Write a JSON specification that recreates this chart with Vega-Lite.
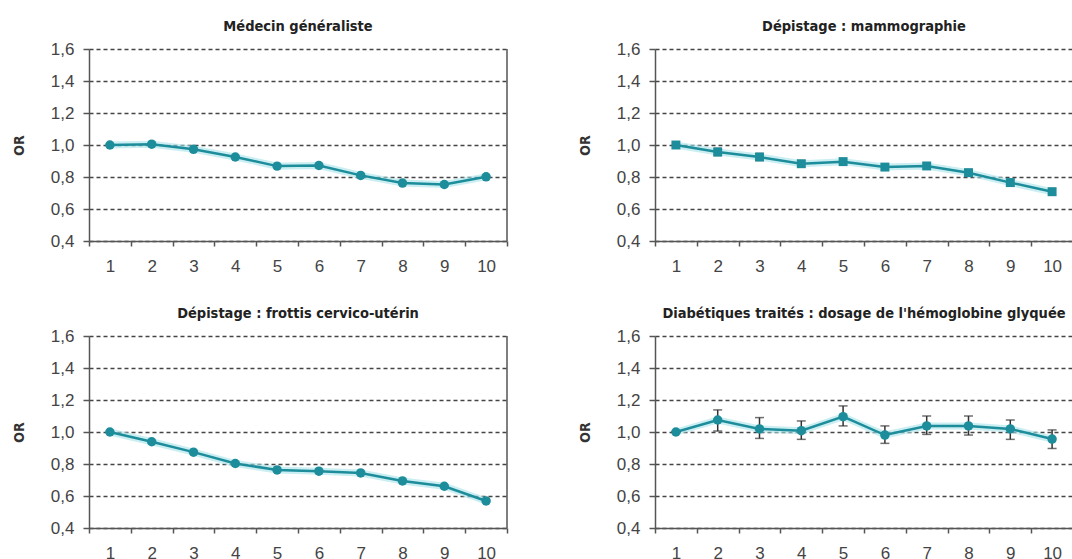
{
  "$schema": "https://vega.github.io/schema/vega-lite/v6.json",
  "padding": {"left": 12, "top": 18, "right": 0, "bottom": 0},
  "background": "white",
  "datasets": {
    "m": [
      {"c": 1, "or": 1.0}, {"c": 2, "or": 1.005}, {"c": 3, "or": 0.973}, {"c": 4, "or": 0.925}, {"c": 5, "or": 0.868},
      {"c": 6, "or": 0.872}, {"c": 7, "or": 0.81}, {"c": 8, "or": 0.762}, {"c": 9, "or": 0.753}, {"c": 10, "or": 0.801}
    ],
    "mam": [
      {"c": 1, "or": 1.0, "lo": 1.0, "hi": 1.0}, {"c": 2, "or": 0.956, "lo": 0.934, "hi": 0.98}, {"c": 3, "or": 0.925, "lo": 0.903, "hi": 0.947},
      {"c": 4, "or": 0.883, "lo": 0.863, "hi": 0.902}, {"c": 5, "or": 0.896, "lo": 0.876, "hi": 0.916}, {"c": 6, "or": 0.862, "lo": 0.842, "hi": 0.882},
      {"c": 7, "or": 0.869, "lo": 0.849, "hi": 0.889}, {"c": 8, "or": 0.827, "lo": 0.807, "hi": 0.847}, {"c": 9, "or": 0.765, "lo": 0.744, "hi": 0.786},
      {"c": 10, "or": 0.708, "lo": 0.688, "hi": 0.728}
    ],
    "fr": [
      {"c": 1, "or": 1.0}, {"c": 2, "or": 0.939}, {"c": 3, "or": 0.874}, {"c": 4, "or": 0.803}, {"c": 5, "or": 0.763},
      {"c": 6, "or": 0.755}, {"c": 7, "or": 0.744}, {"c": 8, "or": 0.694}, {"c": 9, "or": 0.661}, {"c": 10, "or": 0.569}
    ],
    "dia": [
      {"c": 1, "or": 1.0, "lo": 1.0, "hi": 1.0}, {"c": 2, "or": 1.075, "lo": 1.006, "hi": 1.138}, {"c": 3, "or": 1.019, "lo": 0.96, "hi": 1.09},
      {"c": 4, "or": 1.008, "lo": 0.954, "hi": 1.069}, {"c": 5, "or": 1.096, "lo": 1.038, "hi": 1.163}, {"c": 6, "or": 0.981, "lo": 0.929, "hi": 1.038},
      {"c": 7, "or": 1.038, "lo": 0.985, "hi": 1.1}, {"c": 8, "or": 1.038, "lo": 0.981, "hi": 1.1}, {"c": 9, "or": 1.019, "lo": 0.954, "hi": 1.075},
      {"c": 10, "or": 0.956, "lo": 0.897, "hi": 1.013}
    ],
    "frame": [{"c": 10, "or": 0.4, "top": 1.6}]
  },
  "columns": 2,
  "spacing": {"row": 31, "column": 70},
  "concat": [
    {
      "title": "Médecin généraliste",
      "width": 418, "height": 192,
      "encoding": {
        "x": {"field": "c", "type": "ordinal", "scale": {"type": "band", "paddingInner": 0, "paddingOuter": 0}, "title": null},
        "y": {"field": "or", "type": "quantitative", "title": "OR", "scale": {"domain": [0.4, 1.6], "nice": false, "zero": false},
              "axis": {"values": [0.4, 0.6, 0.8, 1.0, 1.2, 1.4, 1.6], "labelExpr": "replace(format(datum.value, '.1f'), '.', ',')"}}
      },
      "layer": [
        {"data": {"name": "frame"}, "mark": {"type": "rule", "color": "#555", "strokeWidth": 1.5},
         "encoding": {"x": {"field": "c", "type": "ordinal", "bandPosition": 1, "scale": {"type": "band", "paddingInner": 0, "paddingOuter": 0}, "title": null}, "y2": {"field": "top"}}},
        {"data": {"name": "m"}, "mark": {"type": "line", "color": "#a6e3ea", "strokeWidth": 7, "opacity": 0.6}},
        {"data": {"name": "m"}, "mark": {"type": "line", "color": "#1d8d9b", "strokeWidth": 2.5}},
        {"data": {"name": "m"}, "mark": {"type": "point", "shape": "circle", "filled": true, "size": 90, "color": "#1d8d9b", "opacity": 1}}
      ]
    },
    {
      "title": "Dépistage : mammographie",
      "width": 418, "height": 192,
      "encoding": {
        "x": {"field": "c", "type": "ordinal", "scale": {"type": "band", "paddingInner": 0, "paddingOuter": 0}, "title": null},
        "y": {"field": "or", "type": "quantitative", "title": "OR", "scale": {"domain": [0.4, 1.6], "nice": false, "zero": false},
              "axis": {"values": [0.4, 0.6, 0.8, 1.0, 1.2, 1.4, 1.6], "labelExpr": "replace(format(datum.value, '.1f'), '.', ',')"}}
      },
      "layer": [
        {"data": {"name": "frame"}, "mark": {"type": "rule", "color": "#555", "strokeWidth": 1.5},
         "encoding": {"x": {"field": "c", "type": "ordinal", "bandPosition": 1, "scale": {"type": "band", "paddingInner": 0, "paddingOuter": 0}, "title": null}, "y2": {"field": "top"}}},
        {"data": {"name": "mam"}, "mark": {"type": "line", "color": "#a6e3ea", "strokeWidth": 7, "opacity": 0.6}},
        {"data": {"name": "mam"}, "mark": {"type": "line", "color": "#1d8d9b", "strokeWidth": 2.5}},
        {"data": {"name": "mam"}, "mark": {"type": "rule", "color": "#333", "strokeWidth": 1.5},
         "encoding": {"y": {"field": "lo", "type": "quantitative", "title": "OR", "axis": {"values": [0.4, 0.6, 0.8, 1.0, 1.2, 1.4, 1.6], "labelExpr": "replace(format(datum.value, '.1f'), '.', ',')"}}, "y2": {"field": "hi"}}},
        {"data": {"name": "mam"}, "mark": {"type": "tick", "color": "#333", "size": 8, "thickness": 1.5},
         "encoding": {"y": {"field": "lo", "type": "quantitative", "title": "OR", "axis": {"values": [0.4, 0.6, 0.8, 1.0, 1.2, 1.4, 1.6], "labelExpr": "replace(format(datum.value, '.1f'), '.', ',')"}}}},
        {"data": {"name": "mam"}, "mark": {"type": "tick", "color": "#333", "size": 8, "thickness": 1.5},
         "encoding": {"y": {"field": "hi", "type": "quantitative", "title": "OR", "axis": {"values": [0.4, 0.6, 0.8, 1.0, 1.2, 1.4, 1.6], "labelExpr": "replace(format(datum.value, '.1f'), '.', ',')"}}}},
        {"data": {"name": "mam"}, "mark": {"type": "point", "shape": "square", "filled": true, "size": 80, "color": "#1d8d9b", "opacity": 1}}
      ]
    },
    {
      "title": "Dépistage : frottis cervico-utérin",
      "width": 418, "height": 192,
      "encoding": {
        "x": {"field": "c", "type": "ordinal", "scale": {"type": "band", "paddingInner": 0, "paddingOuter": 0}, "title": null},
        "y": {"field": "or", "type": "quantitative", "title": "OR", "scale": {"domain": [0.4, 1.6], "nice": false, "zero": false},
              "axis": {"values": [0.4, 0.6, 0.8, 1.0, 1.2, 1.4, 1.6], "labelExpr": "replace(format(datum.value, '.1f'), '.', ',')"}}
      },
      "layer": [
        {"data": {"name": "frame"}, "mark": {"type": "rule", "color": "#555", "strokeWidth": 1.5},
         "encoding": {"x": {"field": "c", "type": "ordinal", "bandPosition": 1, "scale": {"type": "band", "paddingInner": 0, "paddingOuter": 0}, "title": null}, "y2": {"field": "top"}}},
        {"data": {"name": "fr"}, "mark": {"type": "line", "color": "#a6e3ea", "strokeWidth": 7, "opacity": 0.6}},
        {"data": {"name": "fr"}, "mark": {"type": "line", "color": "#1d8d9b", "strokeWidth": 2.5}},
        {"data": {"name": "fr"}, "mark": {"type": "point", "shape": "circle", "filled": true, "size": 90, "color": "#1d8d9b", "opacity": 1}}
      ]
    },
    {
      "title": "Diabétiques traités : dosage de l'hémoglobine glyquée",
      "width": 418, "height": 192,
      "encoding": {
        "x": {"field": "c", "type": "ordinal", "scale": {"type": "band", "paddingInner": 0, "paddingOuter": 0}, "title": null},
        "y": {"field": "or", "type": "quantitative", "title": "OR", "scale": {"domain": [0.4, 1.6], "nice": false, "zero": false},
              "axis": {"values": [0.4, 0.6, 0.8, 1.0, 1.2, 1.4, 1.6], "labelExpr": "replace(format(datum.value, '.1f'), '.', ',')"}}
      },
      "layer": [
        {"data": {"name": "frame"}, "mark": {"type": "rule", "color": "#555", "strokeWidth": 1.5},
         "encoding": {"x": {"field": "c", "type": "ordinal", "bandPosition": 1, "scale": {"type": "band", "paddingInner": 0, "paddingOuter": 0}, "title": null}, "y2": {"field": "top"}}},
        {"data": {"name": "dia"}, "mark": {"type": "line", "color": "#a6e3ea", "strokeWidth": 7, "opacity": 0.6}},
        {"data": {"name": "dia"}, "mark": {"type": "line", "color": "#1d8d9b", "strokeWidth": 2.5}},
        {"data": {"name": "dia"}, "mark": {"type": "rule", "color": "#333", "strokeWidth": 1.5},
         "encoding": {"y": {"field": "lo", "type": "quantitative", "title": "OR", "axis": {"values": [0.4, 0.6, 0.8, 1.0, 1.2, 1.4, 1.6], "labelExpr": "replace(format(datum.value, '.1f'), '.', ',')"}}, "y2": {"field": "hi"}}},
        {"data": {"name": "dia"}, "mark": {"type": "tick", "color": "#333", "size": 9, "thickness": 1.5},
         "encoding": {"y": {"field": "lo", "type": "quantitative", "title": "OR", "axis": {"values": [0.4, 0.6, 0.8, 1.0, 1.2, 1.4, 1.6], "labelExpr": "replace(format(datum.value, '.1f'), '.', ',')"}}}},
        {"data": {"name": "dia"}, "mark": {"type": "tick", "color": "#333", "size": 9, "thickness": 1.5},
         "encoding": {"y": {"field": "hi", "type": "quantitative", "title": "OR", "axis": {"values": [0.4, 0.6, 0.8, 1.0, 1.2, 1.4, 1.6], "labelExpr": "replace(format(datum.value, '.1f'), '.', ',')"}}}},
        {"data": {"name": "dia"}, "mark": {"type": "point", "shape": "circle", "filled": true, "size": 90, "color": "#1d8d9b", "opacity": 1}}
      ]
    }
  ],
  "config": {
    "view": {"stroke": null},
    "font": "Liberation Sans",
    "title": {"font": "DejaVu Sans Condensed, Liberation Sans", "fontSize": 14.5, "fontWeight": "bold", "color": "#222", "offset": 6, "anchor": "middle"},
    "axis": {
      "domainColor": "#555", "domainWidth": 1.5, "tickColor": "#555", "tickWidth": 1.5,
      "labelFont": "Liberation Sans", "labelFontSize": 17, "labelColor": "#444",
      "titleFont": "DejaVu Sans Condensed, Liberation Sans", "titleFontSize": 14, "titleFontWeight": "bold", "titleColor": "#333"
    },
    "axisX": {"tickBand": "extent", "labelAngle": 0, "grid": false, "tickSize": 5, "labelPadding": 12},
    "axisY": {"grid": true, "gridDash": [4, 3], "gridColor": "#444", "gridWidth": 1.3, "tickSize": 6, "labelPadding": 9, "titlePadding": 24}
  }
}
